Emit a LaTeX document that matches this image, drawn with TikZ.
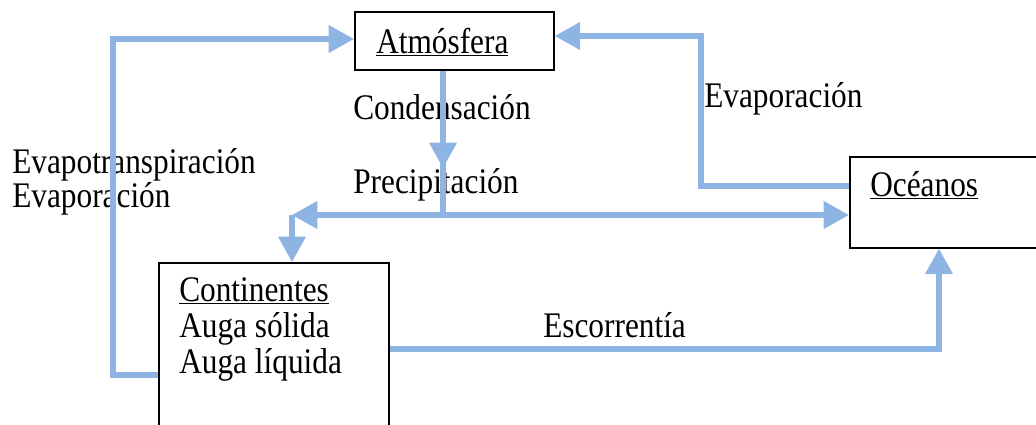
\documentclass[tikz,border=0pt]{standalone}
\usepackage{fontspec}
\setmainfont{Liberation Serif}[FakeStretch=0.87]
\usetikzlibrary{arrows.meta}
\definecolor{flowblue}{RGB}{141,180,226}
\tikzset{
  box/.style={draw=black, line width=1.3pt, rectangle, inner sep=0pt, anchor=north west},
  lbl/.style={inner sep=0pt, anchor=base west, font=\fontsize{27pt}{27pt}\selectfont},
  flow/.style={draw=flowblue, line width=3.8pt, line join=miter},
  tip/.style={-{Triangle[length=19pt,width=20pt]}}
}
\begin{document}
\begin{tikzpicture}[x=0.75pt,y=-0.75pt]
\useasboundingbox (0,0) rectangle (1036,425);
% boxes
\node[box, minimum width=149.25pt, minimum height=43.5pt] (atm) at (354,11) {};
\node[box, minimum width=150pt, minimum height=68.25pt] (oce) at (849,156) {};
\node[box, minimum width=172.5pt, minimum height=135pt] (cont) at (158,262) {};
% box texts
\node[lbl] (tatm) at (376,53) {\underline{Atmósfera}};
\node[lbl] (toce) at (870,196) {\underline{Océanos}};
\node[lbl] (tc1) at (179,301) {\underline{Continentes}};
\node[lbl] (tc2) at (179,337) {Auga sólida};
\node[lbl] (tc3) at (179,373) {Auga líquida};
% labels
\node[lbl] (lcond) at (353,119) {Condensación};
\node[lbl] (lprec) at (353,193) {Precipitación};
\node[lbl] (levap) at (704,107) {Evaporación};
\node[lbl] (lesc) at (543,337) {Escorrentía};
\node[lbl] (let1) at (12,173) {Evapotranspiración};
\node[lbl] (let2) at (12,207) {Evaporación};
% coordinates
\coordinate (jn) at (443,215);
\coordinate (lt) at (292,215);
\coordinate (ct) at (443,168);
% connectors
\draw[flow,tip] (cont.west |- 0,375) -- (113,375) |- (atm.west |- 0,39);
\draw[flow,tip] (oce.west |- 0,186) -- (701,186) |- (atm.east |- 0,36);
\draw[flow,tip] (atm.south -| jn) -- (ct);
\draw[flow] (443,150) -- (jn);
\draw[flow,tip] (jn) -- (lt);
\draw[flow,tip] (jn) -- (oce.west |- jn);
\draw[flow,tip] (lt) -- (cont.north -| lt);
\draw[flow,tip] (cont.east |- 0,349) -- (939,349) -- (oce.south -| 939,0);
\end{tikzpicture}
\end{document}
